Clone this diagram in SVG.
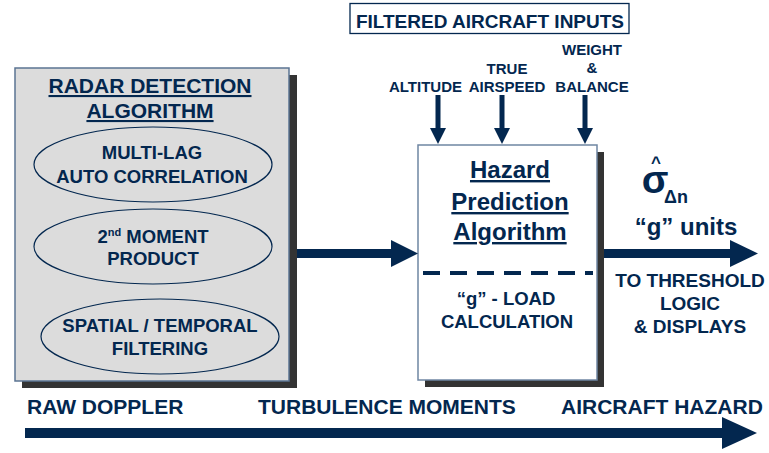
<svg xmlns="http://www.w3.org/2000/svg" width="769" height="453" viewBox="0 0 769 453">
  <style>
    text { font-family: "Liberation Sans", Arial, sans-serif; font-weight: bold; fill: #03274F; }
    .c { text-anchor: middle; }
    .ul { text-decoration: underline; }
    .shadow { fill: #333333; }
    .oval { fill: none; stroke: #03274F; stroke-width: 1.2; }
    .arrow { fill: #03274F; }
  </style>

  <rect width="769" height="453" fill="#ffffff"/>

  <!-- Radar detection algorithm block -->
  <g id="radar-detection">
    <rect class="shadow" x="22" y="75" width="275" height="313"/>
    <rect x="15" y="68" width="274" height="313" fill="#DCDCDC" stroke="#5B7493" stroke-width="1.5"/>
    <text class="c ul" x="150" y="93" font-size="21">RADAR DETECTION</text>
    <text class="c ul" x="150" y="118" font-size="21">ALGORITHM</text>
  </g>

  <g id="multi-lag">
    <ellipse class="oval" cx="153" cy="164.5" rx="119" ry="37.5"/>
    <text class="c" x="152" y="159" font-size="18.5">MULTI-LAG</text>
    <text class="c" x="152" y="183" font-size="18.5">AUTO CORRELATION</text>
  </g>

  <g id="second-moment">
    <ellipse class="oval" cx="153" cy="246.5" rx="119" ry="37.5"/>
    <text class="c" x="153" y="243" font-size="18.5">2<tspan font-size="11" dy="-7">nd</tspan><tspan dy="7"> MOMENT</tspan></text>
    <text class="c" x="153" y="265" font-size="18.5">PRODUCT</text>
  </g>

  <g id="spatial-filtering">
    <ellipse class="oval" cx="160" cy="336.5" rx="119" ry="37.5"/>
    <text class="c" x="160" y="332" font-size="18.5">SPATIAL / TEMPORAL</text>
    <text class="c" x="160" y="355" font-size="18.5">FILTERING</text>
  </g>

  <!-- Filtered aircraft inputs -->
  <g id="aircraft-inputs">
    <rect x="350" y="3.5" width="279" height="30" fill="#ffffff" stroke="#03274F" stroke-width="1.3"/>
    <text class="c" x="490" y="28" font-size="19">FILTERED AIRCRAFT INPUTS</text>
    <text class="c" x="425.5" y="92" font-size="15">ALTITUDE</text>
    <text class="c" x="507" y="74" font-size="15">TRUE</text>
    <text class="c" x="507" y="92" font-size="15">AIRSPEED</text>
    <text class="c" x="592" y="55" font-size="15">WEIGHT</text>
    <text class="c" x="592" y="73" font-size="15">&amp;</text>
    <text class="c" x="592" y="92" font-size="15">BALANCE</text>
  </g>

  <!-- Hazard prediction block -->
  <g id="hazard-prediction">
    <rect class="shadow" x="425" y="152" width="179" height="235"/>
    <rect x="418" y="145" width="179" height="235" fill="#ffffff" stroke="#6F86A3" stroke-width="1.5"/>
    <text class="c ul" x="510" y="178" font-size="24">Hazard</text>
    <text class="c ul" x="510" y="210" font-size="24">Prediction</text>
    <text class="c ul" x="510" y="240" font-size="24">Algorithm</text>
    <line x1="423" y1="273" x2="593" y2="273" stroke="#03274F" stroke-width="4" stroke-dasharray="17 10"/>
    <text class="c" x="506" y="305" font-size="18.5">“g” - LOAD</text>
    <text class="c" x="507" y="328" font-size="18.5">CALCULATION</text>
  </g>

  <!-- Output label: sigma-hat with subscript, in one text element -->
  <g id="output">
    <text class="c"><tspan x="656" y="168" font-size="17">^</tspan><tspan x="655" y="193" font-size="39">σ</tspan><tspan x="676" y="203" font-size="18">Δn</tspan></text>
    <text class="c" x="686" y="235" font-size="24">“g” units</text>
    <text class="c" x="690" y="287" font-size="19">TO THRESHOLD</text>
    <text class="c" x="690" y="310" font-size="19">LOGIC</text>
    <text class="c" x="690" y="333" font-size="19">&amp; DISPLAYS</text>
  </g>

  <!-- Stage labels -->
  <g id="stages">
    <text x="27" y="414" font-size="21">RAW DOPPLER</text>
    <text x="258" y="414" font-size="21">TURBULENCE MOMENTS</text>
    <text x="561" y="414" font-size="21">AIRCRAFT HAZARD</text>
  </g>

  <!-- Connectors -->
  <g id="connectors">
    <!-- input arrows -->
    <rect class="arrow" x="435.5" y="95" width="5" height="34"/>
    <polygon class="arrow" points="430,128 446,128 438,144"/>
    <rect class="arrow" x="499.5" y="95" width="5" height="34"/>
    <polygon class="arrow" points="494,128 510,128 502,144"/>
    <rect class="arrow" x="582.5" y="95" width="5" height="34"/>
    <polygon class="arrow" points="577,128 593,128 585,144"/>
    <!-- radar to hazard -->
    <rect class="arrow" x="297" y="249" width="95" height="9"/>
    <polygon class="arrow" points="391,240 418,253.5 391,267"/>
    <!-- hazard output -->
    <rect class="arrow" x="604" y="249" width="127" height="9"/>
    <polygon class="arrow" points="730,240 758,253.5 730,267"/>
    <!-- processing flow -->
    <rect class="arrow" x="25" y="428" width="698" height="10"/>
    <polygon class="arrow" points="722,417 757,433 722,449"/>
  </g>
</svg>
